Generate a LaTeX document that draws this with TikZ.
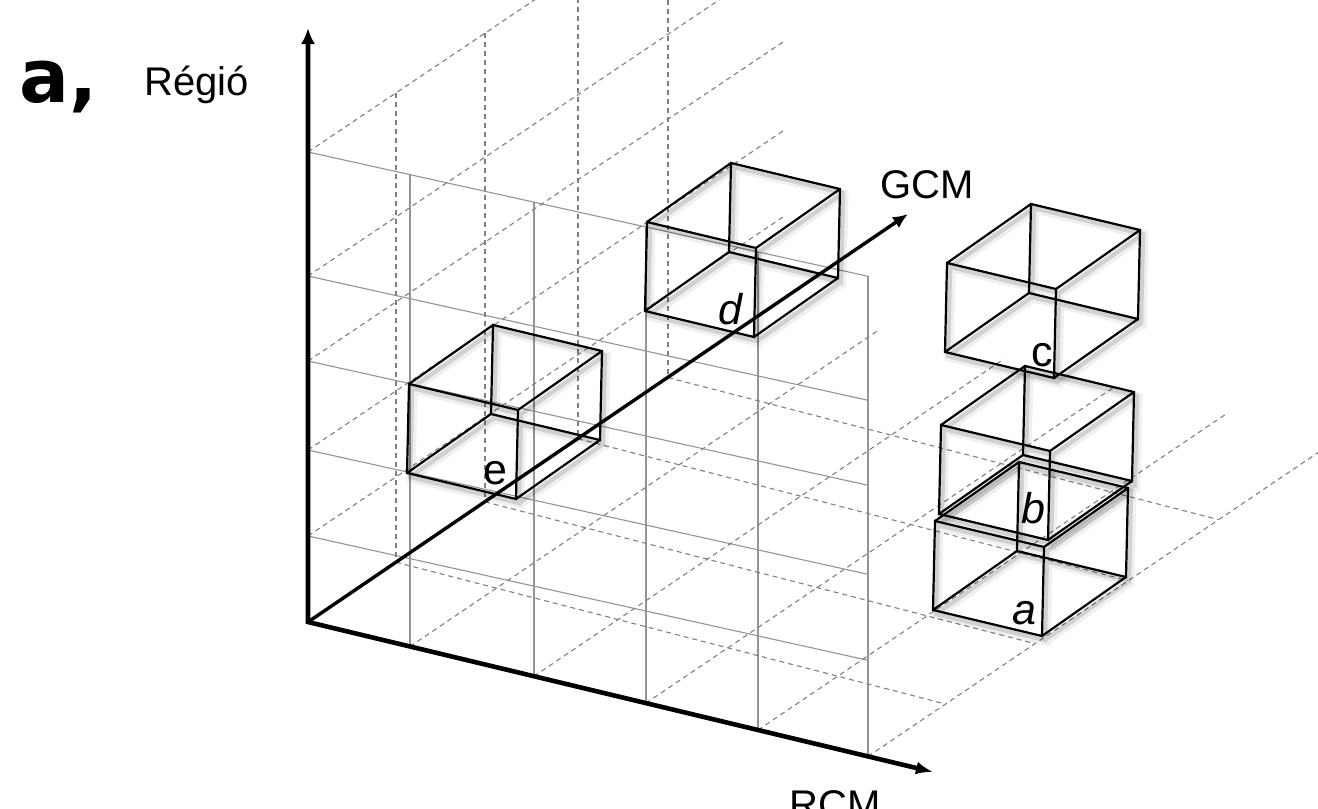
\documentclass[tikz,border=0pt]{standalone}
\usepackage{fontspec}
\setmainfont{Liberation Sans}
\newfontfamily\panelfont{DejaVu Sans}
\usetikzlibrary{arrows.meta,calc}
\newcommand{\wirebox}[2]{%
  \coordinate (#1fbl) at (#2);
  \coordinate (#1fbr) at ($(#1fbl)+(109,26)$);
  \coordinate (#1ftl) at ($(#1fbl)+(2,-89)$);
  \coordinate (#1ftr) at ($(#1ftl)+(109,26)$);
  \coordinate (#1bbl) at ($(#1fbl)+(84,-59)$);
  \coordinate (#1bbr) at ($(#1fbr)+(84,-59)$);
  \coordinate (#1btl) at ($(#1ftl)+(84,-59)$);
  \coordinate (#1btr) at ($(#1ftr)+(84,-59)$);
  \foreach \sty in {boxshadowwide,boxshadow,boxedge}{
    \draw[\sty] (#1fbl) -- (#1fbr) -- (#1ftr) -- (#1ftl) -- cycle
      (#1bbl) -- (#1bbr) -- (#1btr) -- (#1btl) -- cycle
      (#1fbl) -- (#1bbl) (#1fbr) -- (#1bbr)
      (#1ftr) -- (#1btr) (#1ftl) -- (#1btl);
  }
}
\begin{document}
\begin{tikzpicture}[x=0.5pt,y=-0.5pt,
  solidgrid/.style={draw=black!42, line width=0.55pt},
  dashgrid/.style={draw=black!50, line width=0.55pt, dash pattern=on 2.5pt off 2pt},
  axisline/.style={draw=black, line width=2.3pt, line join=miter},
  boxedge/.style={draw=black, line width=1.1pt, line join=miter},
  boxshadow/.style={draw=black, opacity=0.13, line width=2.2pt,
    transform canvas={xshift=1.5pt,yshift=-2pt}},
  boxshadowwide/.style={draw=black, opacity=0.06, line width=4.5pt,
    transform canvas={xshift=2pt,yshift=-2.5pt}},
  lab/.style={font=\fontsize{20}{24}\selectfont, inner sep=0pt},
  boxlab/.style={font=\fontsize{21.5}{25}\selectfont, inner sep=0pt},
]
\useasboundingbox (0,0) rectangle (1318,809);
\clip (0,0) rectangle (1318,809);

% back plane (solid grid)
\foreach \yy in {152,276,361,450,536} {
  \draw[solidgrid] (308,\yy) -- (868,{\yy+124.3});
}
\foreach \xx in {410,534,646,758,868} {
  \draw[solidgrid] (\xx,{152+0.222*(\xx-308)}) -- (\xx,{622+0.240*(\xx-308)});
}

% left wall (dashed grid)
\foreach \yy in {152,276,361,450,536} {
  \draw[dashgrid] (308,\yy) -- (783,{\yy-319});
}
\foreach \xx in {396,485,578,668} {
  \draw[dashgrid] (\xx,{152-0.672*(\xx-308)}) -- (\xx,{622-0.679*(\xx-308)});
}

% floor (dashed grid)
\foreach \xs/\xe/\ye in {396/945.5/704, 485/1034.5/643.6, 578/1127.6/580.5, 668/1218/519.5} {
  \draw[dashgrid] (\xs,{622-0.679*(\xs-308)}) -- (\xe,\ye);
}
\foreach \xx in {410,534,646,758,868} {
  \draw[dashgrid] (\xx,{622+0.240*(\xx-308)}) -- ({\xx+470},{622+0.240*(\xx-308)-317.3});
}

% boxes
\wirebox{e}{407,473}
\wirebox{d}{645,311}
\wirebox{c}{945,352}
\wirebox{b}{939,514}
\wirebox{a}{933,610}

% axes
\coordinate (O) at (308,622);
\coordinate (Vtip) at (308,28);
\coordinate (Rtip) at (933,772);
\coordinate (Gtip) at (908,214);
\draw[axisline, {Latex[length=8pt,width=7pt]}-{Latex[length=8.5pt,width=6.5pt]}] (Vtip) -- (O) -- (Rtip);
\draw[axisline, line width=1.7pt, -{Latex[length=7.5pt,width=6.5pt]}] (O) -- (Gtip);

% labels
\node[font=\panelfont\bfseries\fontsize{37}{40}\selectfont, anchor=base west, inner sep=0pt] (panel) at (19,102) {a,};
\node[lab, anchor=base west] (regio) at (144,95) {Régió};
\node[lab, anchor=base west] (gcm) at (880,198) {GCM};
\node[lab, anchor=base west] (rcm) at (789,818) {RCM};

\node[boxlab, font=\itshape\fontsize{21.5}{25}\selectfont] (la) at (1024,613) {a};
\node[boxlab, font=\itshape\fontsize{21.5}{25}\selectfont] (lb) at (1033,508) {b};
\node[boxlab] (lc) at (1042,355) {c};
\node[boxlab, font=\itshape\fontsize{21.5}{25}\selectfont] (ld) at (730,309) {d};
\node[boxlab] (le) at (495,473) {e};
\end{tikzpicture}
\end{document}
